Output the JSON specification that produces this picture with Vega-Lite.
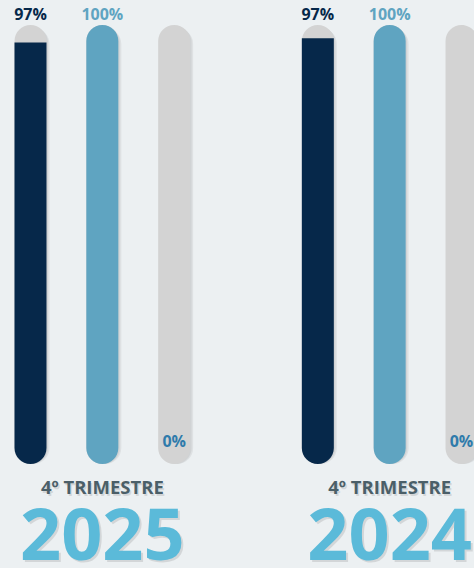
{
  "$schema": "https://vega.github.io/schema/vega-lite/v6.json",
  "width": 474,
  "height": 568,
  "autosize": {"type": "none"},
  "padding": 0,
  "background": "#ecf0f2",
  "config": {"view": {"stroke": null}, "font": "Open Sans"},
  "datasets": {
    "bars": [
      {"year": "2025", "bar": "2025 a", "series": "A", "value": 96, "label": "97%"},
      {"year": "2025", "bar": "2025 b", "series": "B", "value": 100, "label": "100%"},
      {"year": "2025", "bar": "2025 c", "series": "C", "value": 0, "label": "0%"},
      {"year": "2024", "bar": "2024 a", "series": "A", "value": 97, "label": "97%"},
      {"year": "2024", "bar": "2024 b", "series": "B", "value": 100, "label": "100%"},
      {"year": "2024", "bar": "2024 c", "series": "C", "value": 0, "label": "0%"}
    ],
    "years": [
      {"bar": "2025 b", "year": "2025", "period": "4º TRIMESTRE"},
      {"bar": "2024 b", "year": "2024", "period": "4º TRIMESTRE"}
    ]
  },
  "data": {"name": "bars"},
  "encoding": {
    "x": {
      "field": "bar",
      "type": "nominal",
      "axis": null,
      "scale": {
        "domain": ["2025 a", "2025 b", "2025 c", "gap", "2024 a", "2024 b", "2024 c"],
        "range": [14.5, 477.5],
        "paddingInner": 0.5545,
        "paddingOuter": 0
      }
    }
  },
  "layer": [
    {
      "mark": {"type": "bar", "cornerRadius": 16, "color": "#000000", "opacity": 0.06, "xOffset": 3, "yOffset": 3},
      "encoding": {
        "y": {"datum": 100, "type": "quantitative", "scale": {"domain": [-23.69, 105.69], "nice": false, "zero": false}, "axis": null},
        "y2": {"datum": 0}
      }
    },
    {
      "mark": {"type": "bar", "cornerRadius": 16, "color": "#000000", "opacity": 0.06, "xOffset": 1.5, "yOffset": 1.5},
      "encoding": {
        "y": {"datum": 100, "type": "quantitative"},
        "y2": {"datum": 0}
      }
    },
    {
      "mark": {"type": "bar", "cornerRadius": 16, "color": "#d3d3d3"},
      "encoding": {
        "y": {"datum": 100, "type": "quantitative"},
        "y2": {"datum": 0}
      }
    },
    {
      "transform": [{"filter": "datum.value >= 100"}],
      "mark": {"type": "bar", "cornerRadius": 16},
      "encoding": {
        "y": {"field": "value", "type": "quantitative"},
        "y2": {"datum": 0},
        "color": {"field": "series", "type": "nominal", "scale": {"domain": ["A", "B", "C"], "range": ["#06284a", "#5fa4c1", "#d3d3d3"]}, "legend": null}
      }
    },
    {
      "transform": [{"filter": "datum.value > 0 && datum.value < 100"}],
      "mark": {"type": "bar", "cornerRadiusBottomLeft": 16, "cornerRadiusBottomRight": 16},
      "encoding": {
        "y": {"field": "value", "type": "quantitative"},
        "y2": {"datum": 0},
        "color": {"field": "series", "type": "nominal", "legend": null}
      }
    },
    {
      "transform": [{"filter": "datum.value > 0"}],
      "mark": {"type": "text", "fontSize": 16, "fontWeight": "bold", "baseline": "alphabetic", "align": "center", "dy": -5},
      "encoding": {
        "y": {"datum": 100, "type": "quantitative"},
        "text": {"field": "label"},
        "color": {"field": "series", "type": "nominal", "legend": null}
      }
    },
    {
      "transform": [{"filter": "datum.value == 0"}],
      "mark": {"type": "text", "fontSize": 16, "fontWeight": "bold", "baseline": "alphabetic", "align": "center", "dy": -17, "color": "#2f7bab"},
      "encoding": {
        "y": {"datum": 0, "type": "quantitative"},
        "text": {"field": "label"}
      }
    },
    {
      "data": {"name": "years"},
      "mark": {"type": "text", "fontSize": 18.5, "fontWeight": "bold", "baseline": "middle", "align": "center", "color": "#000000", "opacity": 0.1, "dx": 1.5, "dy": 1.5},
      "encoding": {
        "y": {"datum": -5.58, "type": "quantitative"},
        "text": {"field": "period"}
      }
    },
    {
      "data": {"name": "years"},
      "mark": {"type": "text", "fontSize": 18.5, "fontWeight": "bold", "baseline": "middle", "align": "center", "color": "#4b5f68"},
      "encoding": {
        "y": {"datum": -5.58, "type": "quantitative"},
        "text": {"field": "period"}
      }
    },
    {
      "data": {"name": "years"},
      "mark": {"type": "text", "fontSize": 72, "fontWeight": "bold", "baseline": "alphabetic", "align": "center", "color": "#000000", "opacity": 0.1, "dx": 2, "dy": 2},
      "encoding": {
        "y": {"datum": -21.87, "type": "quantitative"},
        "text": {"field": "year"}
      }
    },
    {
      "data": {"name": "years"},
      "mark": {"type": "text", "fontSize": 72, "fontWeight": "bold", "baseline": "alphabetic", "align": "center", "color": "#5bbad9"},
      "encoding": {
        "y": {"datum": -21.87, "type": "quantitative"},
        "text": {"field": "year"}
      }
    }
  ]
}
